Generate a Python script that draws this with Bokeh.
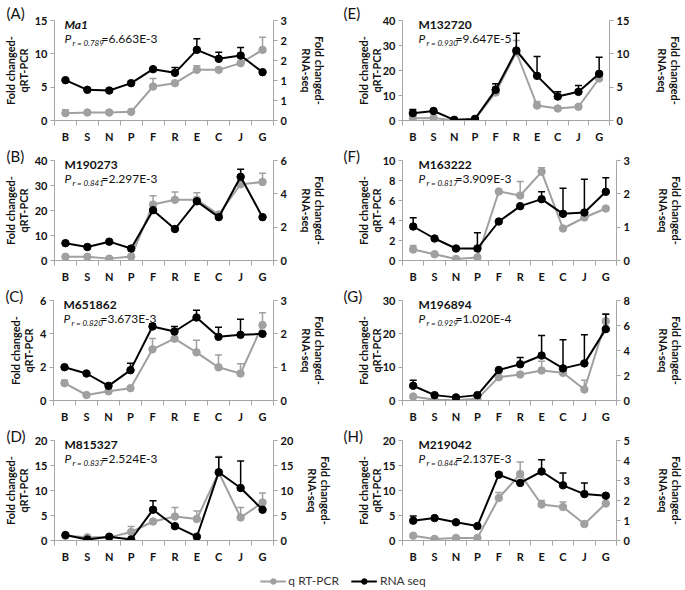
from bokeh.plotting import figure
from bokeh.models import (Range1d, LinearAxis, FixedTicker, Label, Legend, LegendItem, Title,
                          CustomJSTickFormatter, NumeralTickFormatter, ColumnDataSource)
from bokeh.layouts import column, row
from bokeh.embed import file_html
from bokeh.resources import INLINE

categories = ["B", "S", "N", "P", "F", "R", "E", "C", "J", "G"]

# ---- Panel A ----
a_gene = "Ma1"
a_r = "0.789"
a_p = "6.663E-3"
a_qpcr = [1.1, 1.2, 1.2, 1.3, 5.1, 5.6, 7.6, 7.6, 8.6, 10.6]
a_qpcr_err = [0.5, 0, 0, 0, 1.2, 0.3, 0.6, 0.3, 0.8, 1.9]
a_rna = [1.21, 0.92, 0.90, 1.12, 1.54, 1.43, 2.12, 1.85, 1.95, 1.45]
a_rna_err = [0, 0, 0, 0.05, 0, 0.16, 0.33, 0.2, 0.24, 0]
a_left_ticks = [0, 5, 10, 15]
a_right_ticks = [0, 0.6, 1.2, 1.8, 2.4, 3.0]

# ---- Panel B ----
b_gene = "M190273"
b_r = "0.841"
b_p = "2.297E-3"
b_qpcr = [1.5, 1.5, 0.75, 1.6, 22.4, 24.3, 24.3, 18.4, 30.5, 31.4]
b_qpcr_err = [0, 0, 0, 0, 3.5, 3.1, 2.8, 0, 0, 3.5]
b_rna = [1.04, 0.81, 1.13, 0.72, 3.02, 1.89, 3.55, 2.6, 5.02, 2.6]
b_rna_err = [0, 0, 0, 0, 0, 0, 0, 0, 0.45, 0]
b_left_ticks = [0, 10, 20, 30, 40]
b_right_ticks = [0, 2, 4, 6]

# ---- Panel C ----
c_gene = "M651862"
c_r = "0.820"
c_p = "3.673E-3"
c_qpcr = [1.04, 0.33, 0.55, 0.74, 3.07, 3.71, 2.89, 1.99, 1.62, 4.53]
c_qpcr_err = [0.18, 0, 0, 0, 0.65, 0, 0.72, 0.74, 0.59, 0.74]
c_rna = [1.0, 0.81, 0.44, 0.91, 2.22, 2.07, 2.49, 1.91, 1.97, 2.0]
c_rna_err = [0, 0, 0, 0.21, 0.08, 0.15, 0.22, 0.29, 0.47, 0]
c_left_ticks = [0, 2, 4, 6]
c_right_ticks = [0, 1, 2, 3]

# ---- Panel D ----
d_gene = "M815327"
d_r = "0.837"
d_p = "2.524E-3"
d_qpcr = [0.95, 0.63, 0.63, 1.7, 3.8, 4.8, 4.3, 13.6, 4.6, 7.6]
d_qpcr_err = [0, 0, 0, 1.1, 0, 1.8, 1.6, 3.2, 2.0, 1.9]
d_rna = [1.08, 0.2, 0.76, 0.2, 6.16, 2.86, 0.76, 13.65, 10.5, 6.16]
d_rna_err = [0, 0, 0, 0, 1.8, 0, 0, 3.0, 5.4, 0]
d_left_ticks = [0, 5, 10, 15, 20]
d_right_ticks = [0, 5, 10, 15, 20]

# ---- Panel E ----
e_gene = "M132720"
e_r = "0.930"
e_p = "9.647E-5"
e_qpcr = [0.9, 1.0, 0.05, 0.5, 11.2, 27.3, 6.0, 4.8, 5.5, 16.8]
e_qpcr_err = [0, 0, 0, 0, 2.5, 4.7, 1.6, 0, 0, 0]
e_rna = [1.1, 1.43, 0.1, 0.24, 4.6, 10.5, 6.7, 3.6, 4.3, 7.0]
e_rna_err = [0.55, 0.3, 0, 0, 0.9, 2.6, 2.9, 0.7, 0.95, 2.5]
e_left_ticks = [0, 10, 20, 30, 40]
e_right_ticks = [0, 5, 10, 15]

# ---- Panel F ----
f_gene = "M163222"
f_r = "0.817"
f_p = "3.909E-3"
f_qpcr = [1.1, 0.63, 0.16, 0.31, 6.9, 6.5, 8.87, 3.2, 4.3, 5.2]
f_qpcr_err = [0.4, 0, 0, 0, 0, 1.4, 0.4, 0, 0, 0]
f_rna = [1.02, 0.66, 0.36, 0.36, 1.17, 1.63, 1.84, 1.4, 1.44, 2.06]
f_rna_err = [0.26, 0, 0, 0.47, 0, 0, 0.22, 0.77, 1.0, 0.42]
f_left_ticks = [0, 2, 4, 6, 8, 10]
f_right_ticks = [0, 1, 2, 3]

# ---- Panel G ----
g_gene = "M196894"
g_r = "0.929"
g_p = "1.020E-4"
g_qpcr = [1.2, 0.2, 0.1, 0.5, 7.0, 7.8, 9.0, 8.3, 3.3, 23.8]
g_qpcr_err = [0, 0, 0, 0, 0, 0, 2.8, 0, 2.8, 2.2]
g_rna = [1.18, 0.43, 0.25, 0.43, 2.44, 2.9, 3.6, 2.57, 2.97, 5.71]
g_rna_err = [0.45, 0, 0, 0, 0, 0.55, 1.6, 2.3, 2.3, 1.2]
g_left_ticks = [0, 10, 20, 30]
g_right_ticks = [0, 2, 4, 6, 8]

# ---- Panel H ----
h_gene = "M219042"
h_r = "0.844"
h_p = "2.137E-3"
h_qpcr = [0.96, 0.32, 0.5, 0.5, 8.5, 13.3, 7.2, 6.7, 3.3, 7.4]
h_qpcr_err = [0, 0, 0, 0, 1.1, 2.4, 0.8, 1.0, 0, 0]
h_rna = [0.99, 1.12, 0.91, 0.72, 3.29, 2.88, 3.45, 2.76, 2.32, 2.24]
h_rna_err = [0.24, 0, 0, 0, 0.1, 0, 0.59, 0.61, 0.56, 0]
h_left_ticks = [0, 5, 10, 15, 20]
h_right_ticks = [0, 1, 2, 3, 4, 5]

legend_labels = ["q RT-PCR", "RNA seq"]
left_title = "Fold changed-\nqRT-PCR"
right_title = "Fold changed-\nRNA-seq"

FONT = "Lato"
GRAY = "#a0a0a0"
AXIS_GRAY = "#a6a6a6"
TXT = "#111111"
FRAME_H = 100
BOTTOM = 27

LEFT_COL = dict(width=340, bl=53, br=67, tx=10, toff=-48, lstand=2, rstand=10)
RIGHT_COL = dict(width=345, bl=62, br=65, tx=16, toff=-59, lstand=-3, rstand=24)
ROW1 = dict(top=20, tstand=-2)
ROWN = dict(top=13, tstand=-9)


def style_axis(ax, tick_out=4):
    ax.axis_line_color = AXIS_GRAY
    ax.major_tick_line_color = AXIS_GRAY
    ax.minor_tick_line_color = AXIS_GRAY
    ax.major_tick_out = tick_out
    ax.major_tick_in = 0
    ax.minor_tick_in = 0
    ax.minor_tick_out = 0
    ax.major_label_text_font = FONT
    ax.major_label_text_font_size = "11px"
    ax.major_label_text_font_style = "bold"
    ax.major_label_text_color = TXT
    ax.axis_label_text_font = FONT
    ax.axis_label_text_font_size = "11px"
    ax.axis_label_text_font_style = "bold"
    ax.axis_label_text_line_height = 1.0
    ax.axis_label_text_color = TXT


def add_errors(p, xs, ys, errs, color, range_name="default"):
    ex = [x for x, e in zip(xs, errs) if e > 0]
    y0 = [y for y, e in zip(ys, errs) if e > 0]
    y1 = [y + e for y, e in zip(ys, errs) if e > 0]
    src = ColumnDataSource(dict(x=ex, y0=y0, y1=y1))
    p.segment(x0="x", y0="y0", x1="x", y1="y1", source=src, line_color=color,
              line_width=1.5, y_range_name=range_name)
    p.scatter(x="x", y="y1", source=src, marker="dash", size=7, line_color=color,
              line_width=1.5, y_range_name=range_name)


def make_panel(tag, gene, italic, r_txt, p_txt, qpcr, qerr, rna, rerr, lticks, rticks, cfg, rcfg):
    n = len(categories)
    p = figure(width=cfg["width"], height=rcfg["top"] + FRAME_H + BOTTOM,
               output_backend="svg", toolbar_location=None,
               x_range=Range1d(0, n), y_range=Range1d(lticks[0], lticks[-1]),
               min_border_left=cfg["bl"], min_border_right=cfg["br"],
               min_border_top=rcfg["top"], min_border_bottom=BOTTOM)
    p.title = Title(text=tag, align="left", offset=cfg["toff"], standoff=rcfg["tstand"],
                    text_font=FONT, text_font_size="15px", text_font_style="normal",
                    text_color=TXT)
    p.extra_y_ranges = {"rna": Range1d(rticks[0], rticks[-1])}
    p.xgrid.visible = False
    p.ygrid.visible = False
    p.outline_line_color = None

    xs = [i + 0.5 for i in range(n)]

    xa = p.xaxis[0]
    xa.ticker = FixedTicker(ticks=xs, minor_ticks=list(range(n + 1)))
    xa.formatter = CustomJSTickFormatter(args=dict(cats=categories),
                                         code="return cats[Math.floor(tick)] || '';")
    style_axis(xa, tick_out=0)
    xa.minor_tick_out = 5
    xa.major_label_standoff = 4

    ya = p.yaxis[0]
    ya.ticker = FixedTicker(ticks=lticks)
    ya.formatter = NumeralTickFormatter(format="0")
    style_axis(ya)
    ya.axis_label = left_title
    ya.axis_label_standoff = cfg["lstand"]
    ya.major_label_standoff = 3

    ra = LinearAxis(y_range_name="rna", ticker=FixedTicker(ticks=rticks),
                    formatter=NumeralTickFormatter(format="0"))
    style_axis(ra)
    ra.axis_label = right_title
    ra.axis_label_standoff = cfg["rstand"]
    ra.major_label_standoff = 3
    p.add_layout(ra, "right")

    qsrc = ColumnDataSource(dict(x=xs, y=qpcr))
    p.line("x", "y", source=qsrc, line_color=GRAY, line_width=2)
    p.scatter("x", "y", source=qsrc, size=7.5, fill_color=GRAY, line_color=GRAY)
    add_errors(p, xs, qpcr, qerr, GRAY)

    rsrc = ColumnDataSource(dict(x=xs, y=rna))
    p.line("x", "y", source=rsrc, line_color="black", line_width=2, y_range_name="rna")
    p.scatter("x", "y", source=rsrc, size=7.5, fill_color="black", line_color="black",
              y_range_name="rna")
    add_errors(p, xs, rna, rerr, "black", "rna")

    # texts anchored to the top-left corner of the plot area, offset in pixels
    tx = cfg["tx"]
    top = lticks[-1]
    x0 = 0
    p.add_layout(Label(x=x0, y=top, x_offset=tx, y_offset=-11,
                       text=gene, text_font=FONT, text_font_size="12px",
                       text_font_style="bold italic" if italic else "bold",
                       text_color=TXT))
    p.add_layout(Label(x=x0, y=top, x_offset=tx, y_offset=-25,
                       text="P", text_font=FONT, text_font_size="12px",
                       text_font_style="italic", text_color=TXT))
    p.add_layout(Label(x=x0, y=top, x_offset=tx + 8, y_offset=-27,
                       text="r = " + r_txt, text_font=FONT, text_font_size="8px",
                       text_font_style="italic", text_color=TXT))
    p.add_layout(Label(x=x0, y=top, x_offset=tx + 37, y_offset=-25,
                       text="=" + p_txt, text_font=FONT, text_font_size="12px",
                       text_color=TXT))
    return p


pA = make_panel("(A)", a_gene, True, a_r, a_p, a_qpcr, a_qpcr_err, a_rna, a_rna_err,
                a_left_ticks, a_right_ticks, LEFT_COL, ROW1)
pB = make_panel("(B)", b_gene, False, b_r, b_p, b_qpcr, b_qpcr_err, b_rna, b_rna_err,
                b_left_ticks, b_right_ticks, LEFT_COL, ROWN)
pC = make_panel("(C)", c_gene, False, c_r, c_p, c_qpcr, c_qpcr_err, c_rna, c_rna_err,
                c_left_ticks, c_right_ticks, LEFT_COL, ROWN)
pD = make_panel("(D)", d_gene, False, d_r, d_p, d_qpcr, d_qpcr_err, d_rna, d_rna_err,
                d_left_ticks, d_right_ticks, LEFT_COL, ROWN)
pE = make_panel("(E)", e_gene, False, e_r, e_p, e_qpcr, e_qpcr_err, e_rna, e_rna_err,
                e_left_ticks, e_right_ticks, RIGHT_COL, ROW1)
pF = make_panel("(F)", f_gene, False, f_r, f_p, f_qpcr, f_qpcr_err, f_rna, f_rna_err,
                f_left_ticks, f_right_ticks, RIGHT_COL, ROWN)
pG = make_panel("(G)", g_gene, False, g_r, g_p, g_qpcr, g_qpcr_err, g_rna, g_rna_err,
                g_left_ticks, g_right_ticks, RIGHT_COL, ROWN)
pH = make_panel("(H)", h_gene, False, h_r, h_p, h_qpcr, h_qpcr_err, h_rna, h_rna_err,
                h_left_ticks, h_right_ticks, RIGHT_COL, ROWN)

used = ROW1["top"] + 3 * ROWN["top"] + 4 * (FRAME_H + BOTTOM)
LEG_H = 590 - used

# legend strip: proxy renderers use panel A data, kept outside the visible x range
lp = figure(width=685, height=LEG_H, output_backend="svg", toolbar_location=None,
            x_range=Range1d(100, 101), y_range=Range1d(0, 1), x_axis_type=None,
            y_axis_type=None, min_border=0)
lp.xgrid.visible = False
lp.ygrid.visible = False
lp.outline_line_color = None
lx = list(range(len(categories)))
gl = lp.line(lx, a_qpcr, line_color=GRAY, line_width=2)
gs = lp.scatter(lx, a_qpcr, size=6, fill_color=GRAY, line_color=GRAY)
bl = lp.line(lx, a_rna, line_color="black", line_width=2)
bs = lp.scatter(lx, a_rna, size=6, fill_color="black", line_color="black")
leg = Legend(items=[LegendItem(label=legend_labels[0], renderers=[gl, gs]),
                    LegendItem(label=legend_labels[1], renderers=[bl, bs])],
             orientation="horizontal", location="bottom_center", border_line_color=None,
             background_fill_alpha=0, label_text_font=FONT, label_text_font_size="12px",
             label_text_color="#333333", padding=0, margin=2, spacing=12,
             glyph_width=26, glyph_height=14, label_height=14, label_standoff=3)
lp.add_layout(leg, "center")

layout = column(row(pA, pE), row(pB, pF), row(pC, pG), row(pD, pH), lp)

open("out.html", "w").write(file_html(layout, INLINE))
